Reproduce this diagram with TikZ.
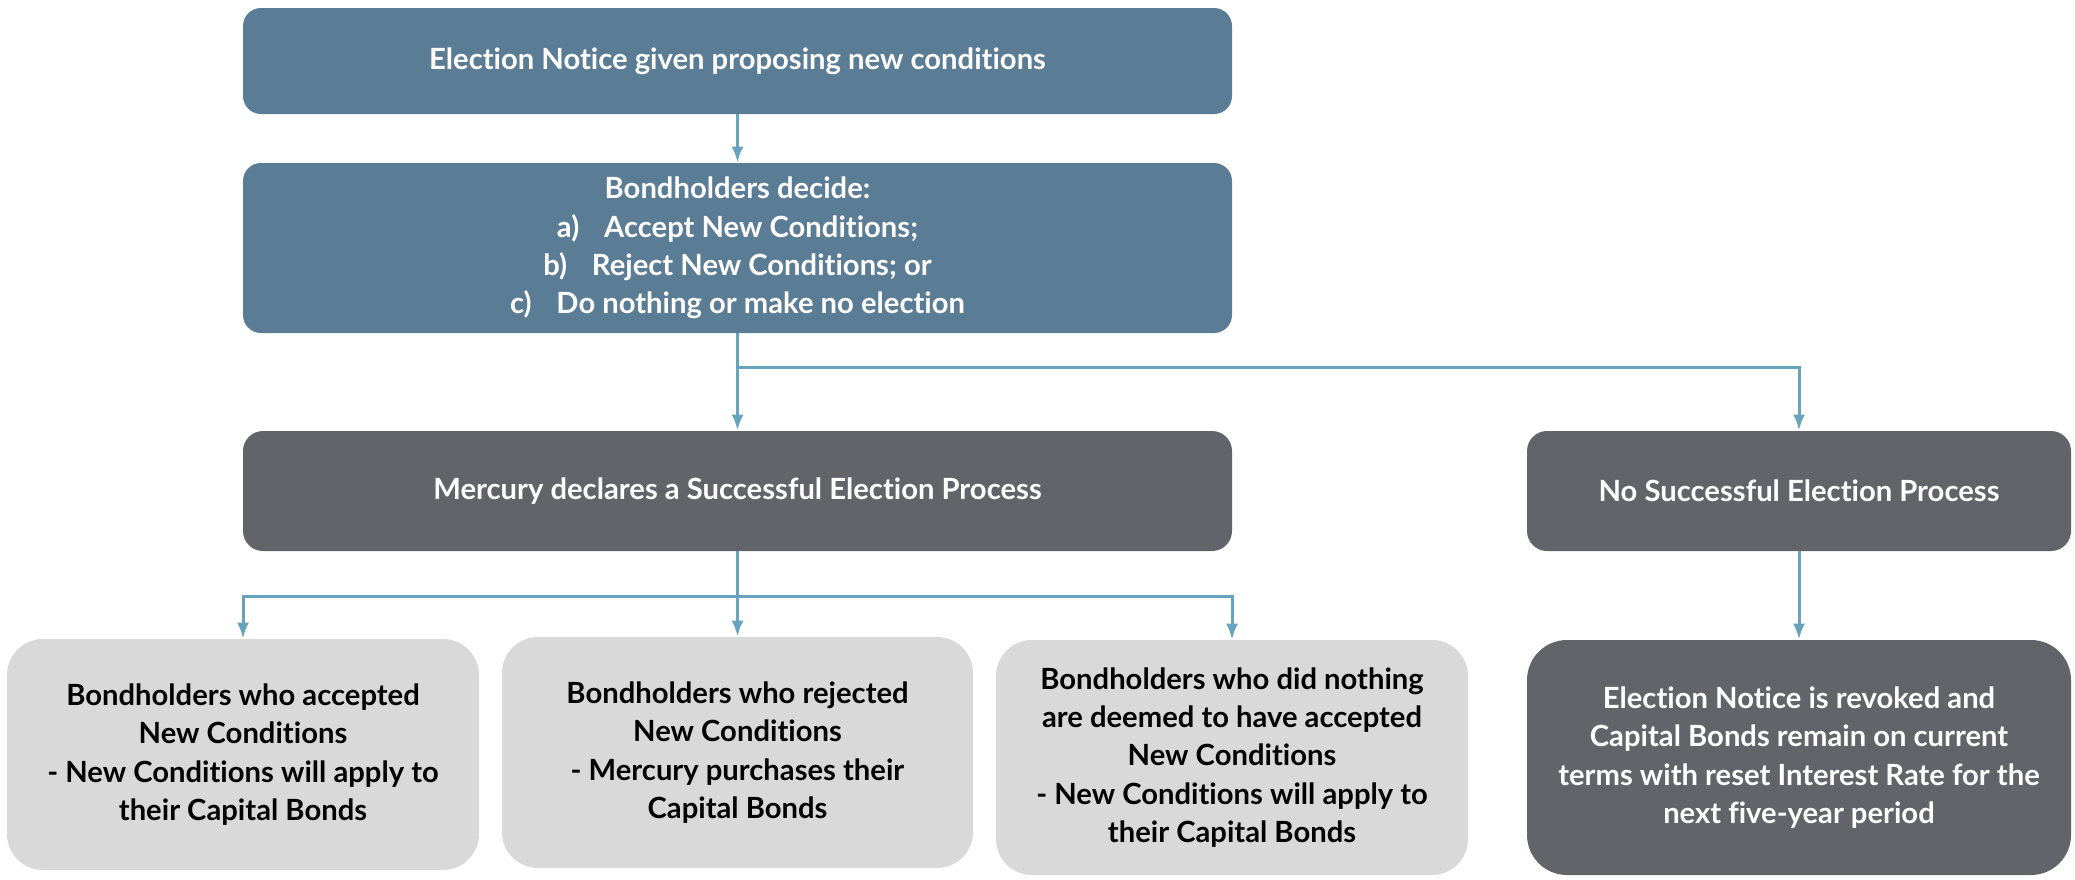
\documentclass[tikz,border=0pt]{standalone}
\usepackage{fontspec}
\setmainfont{Lato}[Ligatures={NoCommon,NoContextual}]
\usetikzlibrary{arrows.meta}
\definecolor{bluefill}{HTML}{5B7C95}
\definecolor{darkfill}{HTML}{636469}
\definecolor{lightfill}{HTML}{D9D9D9}
\definecolor{connc}{HTML}{68A3BE}
\tikzset{
  basebox/.style={align=center, inner sep=0pt, font=\bfseries\fontsize{14.6}{19.2}\selectfont},
  bluebox/.style={basebox, fill=bluefill, text=white, rounded corners=9pt},
  darkbox/.style={basebox, fill=darkfill, text=white, rounded corners=10pt},
  darkbig/.style={basebox, fill=darkfill, text=white, rounded corners=20pt},
  lightbox/.style={basebox, fill=lightfill, text=black, rounded corners=18pt},
  conn/.style={draw=connc, line width=1.5pt},
  arr/.style={conn, -{Latex[length=8pt,width=6pt]}},
}
\begin{document}
\begin{tikzpicture}[x=0.5pt,y=-0.5pt]
\useasboundingbox (0,0) rectangle (2075,879);
\node[bluebox, minimum width=494.5pt, minimum height=53pt] (b1) at (737.5,61) {Election Notice given proposing new conditions};
\node[bluebox, minimum width=494.5pt, minimum height=85pt] (b2) at (737.5,248) {Bondholders decide:\\ a)\hspace{0.85em}Accept New Conditions;\\ b)\hspace{0.85em}Reject New Conditions; or\\ c)\hspace{0.85em}Do nothing or make no election};
\node[darkbox, minimum width=494.5pt, minimum height=60pt] (b3) at (737.5,491) {Mercury declares a Successful Election Process};
\node[darkbox, minimum width=272pt, minimum height=60pt] (b4) at (1799,491) {No Successful Election Process};
\node[lightbox, minimum width=236pt, minimum height=115.5pt] (b5) at (243,754.5) {Bondholders who accepted\\ New Conditions\\ - New Conditions will apply to\\ their Capital Bonds};
\node[lightbox, minimum width=235.5pt, minimum height=115.5pt] (b6) at (737.5,752.5) {Bondholders who rejected\\ New Conditions\\ - Mercury purchases their\\ Capital Bonds};
\node[lightbox, minimum width=236pt, minimum height=117.5pt] (b7) at (1232,757.5) {Bondholders who did nothing\\ are deemed to have accepted\\ New Conditions\\ - New Conditions will apply to\\ their Capital Bonds};
\node[darkbig, minimum width=272pt, minimum height=117.5pt] (b8) at (1799,757.5) {Election Notice is revoked and\\ Capital Bonds remain on current\\ terms with reset Interest Rate for the\\ next five-year period};
\coordinate (j1) at (737.5,367);
\coordinate (j2) at (737.5,596);
\draw[arr] (b1) -- (b2);
\draw[arr] (b2.south) -- (b3.north);
\draw[arr] (j1) -| (b4.north);
\draw[arr] (b3.south) -- (b6.north);
\draw[arr] (j2) -| (b5.north);
\draw[arr] (j2) -| (b7.north);
\draw[arr] (b4) -- (b8);
\end{tikzpicture}
\end{document}
